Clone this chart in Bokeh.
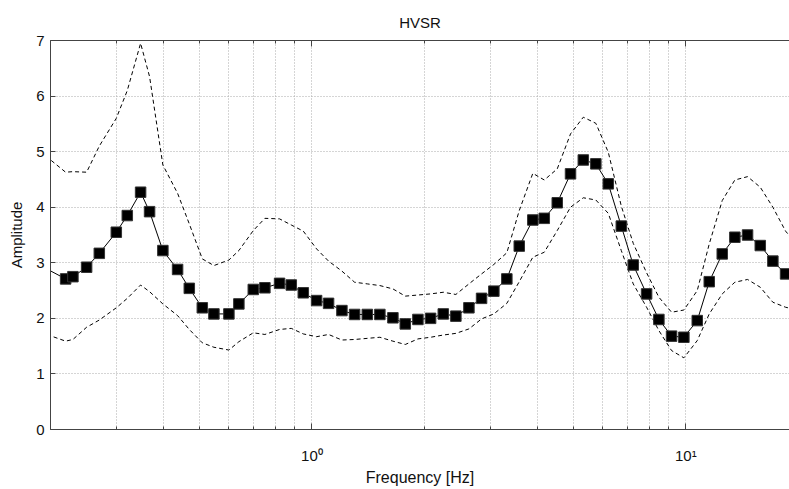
from bokeh.plotting import figure
from bokeh.models import FixedTicker, LogAxis, CustomJSTickFormatter, Range1d
from bokeh.embed import file_html
from bokeh.resources import INLINE

# ---- data ----
freq = [0.188, 0.2195, 0.2296, 0.2498, 0.2701, 0.2999, 0.3209, 0.3483, 0.3681, 0.3995,
        0.4374, 0.4701, 0.5093, 0.5470, 0.5999, 0.6379, 0.6971, 0.7487, 0.8196, 0.8808,
        0.9484, 1.0294, 1.1082, 1.2030, 1.3008, 1.4067, 1.5197, 1.6467, 1.7771, 1.9209,
        2.0770, 2.2457, 2.4266, 2.6297, 2.8427, 3.0660, 3.3212, 3.5851, 3.8975, 4.1822,
        4.5301, 4.9160, 5.3185, 5.7451, 6.2023, 6.7203, 7.2328, 7.8526, 8.4701, 9.1582,
        9.8787, 10.727, 11.550, 12.511, 13.521, 14.622, 15.812, 17.087, 18.478, 19.97]

hv_mean = [2.95, 2.71, 2.75, 2.92, 3.17, 3.55, 3.85, 4.27, 3.92, 3.22,
           2.88, 2.54, 2.19, 2.08, 2.08, 2.26, 2.52, 2.55, 2.63, 2.60,
           2.46, 2.32, 2.27, 2.14, 2.07, 2.07, 2.07, 2.01, 1.90, 1.98,
           2.00, 2.08, 2.04, 2.19, 2.36, 2.49, 2.71, 3.30, 3.77, 3.80,
           4.08, 4.60, 4.85, 4.78, 4.42, 3.66, 2.96, 2.44, 1.98, 1.68,
           1.66, 1.96, 2.66, 3.16, 3.46, 3.50, 3.31, 3.03, 2.80, 2.65]

hv_upper = [5.00, 4.63, 4.64, 4.63, 5.10, 5.60, 6.10, 6.95, 6.35, 4.76,
            4.25, 3.70, 3.07, 2.95, 3.05, 3.22, 3.58, 3.80, 3.79, 3.68,
            3.57, 3.25, 3.03, 2.85, 2.65, 2.62, 2.59, 2.53, 2.40, 2.42,
            2.44, 2.47, 2.43, 2.62, 2.80, 2.97, 3.18, 3.94, 4.61, 4.49,
            4.69, 5.32, 5.62, 5.51, 4.99, 4.02, 3.35, 2.82, 2.38, 2.11,
            2.15, 2.50, 3.34, 4.12, 4.49, 4.55, 4.36, 4.00, 3.57, 3.30]

hv_lower = [1.75, 1.59, 1.62, 1.84, 1.97, 2.19, 2.36, 2.60, 2.48, 2.26,
            2.05, 1.80, 1.56, 1.48, 1.43, 1.58, 1.74, 1.71, 1.80, 1.82,
            1.72, 1.67, 1.71, 1.61, 1.62, 1.64, 1.66, 1.59, 1.53, 1.63,
            1.66, 1.70, 1.73, 1.81, 1.99, 2.08, 2.27, 2.66, 3.10, 3.19,
            3.58, 4.00, 4.17, 4.13, 3.89, 3.22, 2.62, 2.20, 1.78, 1.42,
            1.29, 1.60, 2.08, 2.44, 2.65, 2.70, 2.56, 2.29, 2.20, 2.15]

x_major_ticks = [1, 10]
x_minor_ticks = [0.2, 0.3, 0.4, 0.5, 0.6, 0.7, 0.8, 0.9,
                 2, 3, 4, 5, 6, 7, 8, 9]
y_ticks = [0, 1, 2, 3, 4, 5, 6, 7]

FONT = "Liberation Sans"
AXIS_COLOR = "#444444"
GRID_COLOR = "#aaaaaa"

p = figure(width=789, height=489, x_axis_type="log",
           x_range=Range1d(0.2, 18.93), y_range=Range1d(0, 7),
           output_backend="svg", toolbar_location=None, title="HVSR",
           min_border_left=50, min_border_right=0, min_border_top=40,
           min_border_bottom=60)

p.outline_line_color = None
p.background_fill_color = "white"
p.border_fill_color = "white"

p.title.align = "center"
p.title.text_font = FONT
p.title.text_font_size = "15px"
p.title.text_font_style = "normal"
p.title.text_color = "#111111"
p.title.standoff = 20

sup_code = """
const e = Math.round(Math.log10(tick));
const sup = {"-":"\u207b","0":"\u2070","1":"\u00b9","2":"\u00b2","3":"\u00b3",
             "4":"\u2074","5":"\u2075","6":"\u2076","7":"\u2077","8":"\u2078","9":"\u2079"};
return "10" + String(e).split("").map(c => sup[c]).join("");
"""

xa = p.xaxis[0]
xa.ticker = FixedTicker(ticks=x_major_ticks, minor_ticks=x_minor_ticks)
xa.formatter = CustomJSTickFormatter(code=sup_code)
xa.major_tick_in = 6
xa.major_tick_out = 0
xa.minor_tick_in = 3
xa.minor_tick_out = 0
xa.axis_line_color = AXIS_COLOR
xa.major_tick_line_color = AXIS_COLOR
xa.minor_tick_line_color = AXIS_COLOR
xa.major_label_text_font = FONT
xa.major_label_text_font_size = "15px"
xa.major_label_text_color = "#111111"
xa.major_label_standoff = 17
xa.axis_label = "Frequency [Hz]"
xa.axis_label_text_font = FONT
xa.axis_label_text_font_size = "16px"
xa.axis_label_text_font_style = "normal"
xa.axis_label_text_color = "#111111"
xa.axis_label_standoff = 2

top = LogAxis(ticker=FixedTicker(ticks=x_major_ticks, minor_ticks=x_minor_ticks),
              formatter=CustomJSTickFormatter(code="return ''"),
              major_tick_in=6, major_tick_out=0, minor_tick_in=3, minor_tick_out=0,
              major_label_standoff=0, major_label_text_font_size="1px",
              axis_line_color=AXIS_COLOR, major_tick_line_color=AXIS_COLOR,
              minor_tick_line_color=AXIS_COLOR)
p.add_layout(top, "above")

ya = p.yaxis[0]
ya.ticker = FixedTicker(ticks=y_ticks)
ya.major_tick_in = 5
ya.major_tick_out = 0
ya.minor_tick_line_color = None
ya.axis_line_color = AXIS_COLOR
ya.major_tick_line_color = AXIS_COLOR
ya.major_label_text_font = FONT
ya.major_label_text_font_size = "15px"
ya.major_label_text_color = "#111111"
ya.major_label_standoff = 6
ya.axis_label = "Amplitude"
ya.axis_label_text_font = FONT
ya.axis_label_text_font_size = "15px"
ya.axis_label_text_font_style = "normal"
ya.axis_label_text_color = "#111111"
ya.axis_label_standoff = 8

p.xgrid.grid_line_color = GRID_COLOR
p.xgrid.grid_line_dash = "1 2"
p.xgrid.minor_grid_line_color = GRID_COLOR
p.xgrid.minor_grid_line_dash = "1 2"
p.ygrid.grid_line_color = GRID_COLOR
p.ygrid.grid_line_dash = "1 2"

p.line(freq, hv_upper, line_color="black", line_width=1, line_dash="4 3")
p.line(freq, hv_lower, line_color="black", line_width=1, line_dash="4 3")
p.line(freq, hv_mean, line_color="black", line_width=1)
p.scatter(freq, hv_mean, marker="square", size=10.5, fill_color="black",
          line_color="#333333")

open("out.html", "w").write(file_html(p, INLINE))
